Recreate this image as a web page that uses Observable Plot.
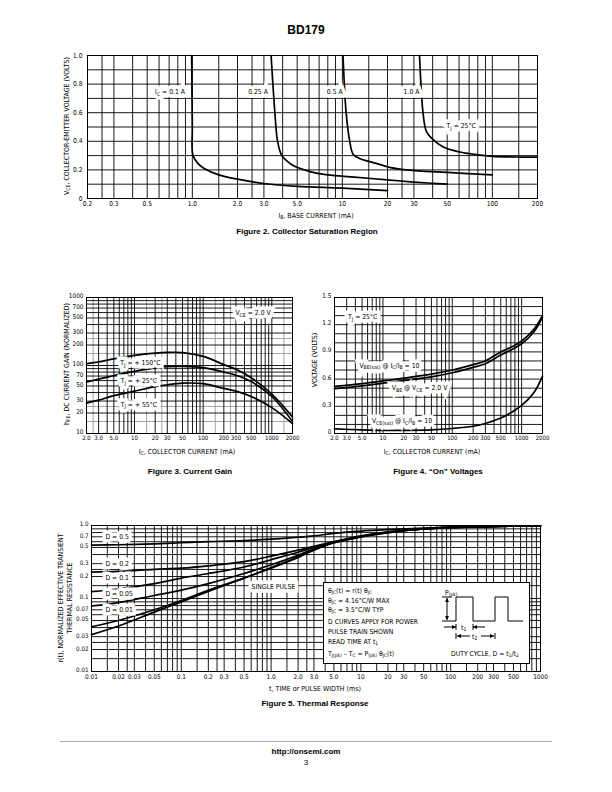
<!DOCTYPE html>
<html><head><meta charset="utf-8">
<script src="https://cdn.jsdelivr.net/npm/d3@7"></script>
<script src="https://cdn.jsdelivr.net/npm/@observablehq/plot@0.6"></script>
<style>
body{margin:0;background:#fff;}
#page{position:relative;width:612px;height:792px;overflow:hidden;background:#fff;color:#000;
 font-family:"Liberation Sans Narrow","Arial Narrow","DejaVu Sans Condensed","Liberation Sans",sans-serif;}
.abs{position:absolute;white-space:nowrap;line-height:1;}
.cap{font-family:"Liberation Sans",Arial,sans-serif;font-weight:bold;font-size:8px;transform:translate(-50%,-50%);}
.xl{font-size:7px;transform:translate(-50%,-50%);}
.yl{font-size:7px;transform:translate(-50%,-50%) rotate(-90deg);}
sub{font-size:0.72em;vertical-align:-0.3em;line-height:0;}
.box{border:1px solid #000;background:#fff;}
.bt{position:absolute;left:4px;font-size:6.8px;white-space:nowrap;line-height:1;transform:translateY(-50%);}
</style></head><body><div id="page"></div>
<script>
// ---------------- DATA ----------------
// Figure 2: Collector Saturation Region (IB mA vs VCE volts)
const fig2Series = ["0.1 A", "0.25 A", "0.5 A", "1.0 A"];
const fig2IB_01  = [0.99, 1.0, 1.01, 1.1, 1.2, 1.5, 2, 3, 5, 10, 20];
const fig2VCE_01 = [1.0, 0.5, 0.3, 0.24, 0.21, 0.165, 0.135, 0.105, 0.085, 0.072, 0.055];
const fig2IB_025  = [3.35, 3.55, 3.7, 3.95, 4.3, 4.7, 6, 8, 12, 20, 30, 50];
const fig2VCE_025 = [1.0, 0.6, 0.4, 0.3, 0.26, 0.23, 0.19, 0.165, 0.15, 0.13, 0.115, 0.1];
const fig2IB_05  = [10.1, 10.6, 11.2, 11.8, 13, 15, 17, 21, 28, 36, 60, 100];
const fig2VCE_05 = [1.0, 0.6, 0.4, 0.31, 0.28, 0.26, 0.244, 0.216, 0.198, 0.19, 0.178, 0.165];
const fig2IB_10  = [32.7, 34.5, 36.3, 39.5, 47, 61, 80, 100, 150, 200];
const fig2VCE_10 = [1.0, 0.6, 0.47, 0.42, 0.36, 0.325, 0.305, 0.295, 0.29, 0.29];
const fig2XTicks = [0.2, 0.3, 0.5, 1, 2, 3, 5, 10, 20, 30, 50, 100, 200];
const fig2XLabels = ["0.2","0.3","0.5","1.0","2.0","3.0","5.0","10","20","30","50","100","200"];
const fig2YTicks = [0, 0.2, 0.4, 0.6, 0.8, 1.0];
const fig2YLabels = ["0","0.2","0.4","0.6","0.8","1.0"];

// Figure 3: Current Gain (IC mA vs hFE)
const fig3Series = ["TJ = +150°C", "TJ = +25°C", "TJ = -55°C"];
const fig3IC = [2, 3, 5, 10, 20, 30, 50, 100, 200, 300, 500, 1000, 2000];
const fig3H150 = [106, 113, 125, 141, 152, 156, 155, 136, 103, 88, 66, 38, 17.5];
const fig3H25  = [57, 63, 71, 82, 92, 96, 97, 93, 80, 72, 58, 35, 15];
const fig3Hm55 = [28, 31, 36, 42, 49, 52, 55, 54, 46, 42, 35, 24, 14];
const fig3XTicks = [2, 3, 5, 10, 20, 30, 50, 100, 200, 300, 500, 1000, 2000];
const fig3XLabels = ["2.0","3.0","5.0","10","20","30","50","100","200","300","500","1000","2000"];
const fig3YTicks = [10, 20, 30, 50, 70, 100, 200, 300, 500, 700, 1000];
const fig3YLabels = ["10","20","30","50","70","100","200","300","500","700","1000"];

// Figure 4: "On" Voltages (IC mA vs volts)
const fig4Series = ["VBE(sat)", "VBE", "VCE(sat)"];
const fig4IC = [2, 5, 10, 20, 50, 100, 200, 300, 500, 700, 1000, 1500, 2000];
const fig4VBEsat = [0.52, 0.55, 0.58, 0.61, 0.655, 0.70, 0.76, 0.80, 0.90, 0.95, 1.02, 1.15, 1.30];
const fig4VBE    = [0.495, 0.525, 0.555, 0.585, 0.625, 0.67, 0.73, 0.77, 0.865, 0.92, 0.99, 1.12, 1.28];
const fig4VCEsat = [0.05, 0.04, 0.035, 0.035, 0.04, 0.055, 0.08, 0.11, 0.17, 0.23, 0.31, 0.45, 0.63];
const fig4YTicks = [0, 0.3, 0.6, 0.9, 1.2, 1.5];
const fig4YLabels = ["0","0.3","0.6","0.9","1.2","1.5"];

// Figure 5: Thermal Response (t ms vs r(t))
const fig5Series = ["D = 0.5", "D = 0.2", "D = 0.1", "D = 0.05", "D = 0.01", "SINGLE PULSE"];
const fig5T = [0.01, 0.02, 0.05, 0.1, 0.2, 0.5, 1, 2, 3, 5, 10, 20, 50, 100, 200, 500, 1000];
const fig5D05  = [0.54, 0.545, 0.56, 0.58, 0.6, 0.62, 0.65, 0.69, 0.72, 0.78, 0.84, 0.88, 0.92, 0.95, 0.96, 0.98, 0.99];
const fig5D02  = [0.23, 0.235, 0.25, 0.26, 0.28, 0.32, 0.38, 0.46, 0.52, 0.6, 0.72, 0.82, 0.9, 0.94, 0.96, 0.98, 0.99];
const fig5D01  = [0.124, 0.135, 0.16, 0.19, 0.22, 0.27, 0.34, 0.43, 0.5, 0.59, 0.71, 0.81, 0.9, 0.94, 0.96, 0.98, 0.99];
const fig5D005 = [0.079, 0.088, 0.11, 0.13, 0.16, 0.22, 0.29, 0.39, 0.48, 0.585, 0.705, 0.805, 0.9, 0.94, 0.96, 0.98, 0.99];
const fig5D001 = [0.041, 0.05, 0.07, 0.094, 0.13, 0.19, 0.265, 0.37, 0.465, 0.58, 0.7, 0.8, 0.9, 0.94, 0.96, 0.98, 0.99];
const fig5SP   = [0.032, 0.042, 0.065, 0.09, 0.125, 0.19, 0.26, 0.365, 0.46, 0.58, 0.7, 0.8, 0.9, 0.94, 0.96, 0.98, 0.99];
const fig5XTicks = [0.01,0.02,0.03,0.05,0.1,0.2,0.3,0.5,1,2,3,5,10,20,30,50,100,200,300,500,1000];
const fig5XLabels = ["0.01","0.02","0.03","0.05","0.1","0.2","0.3","0.5","1.0","2.0","3.0","5.0","10","20","30","50","100","200","300","500","1000"];
const fig5YTicks = [0.01,0.02,0.03,0.05,0.07,0.1,0.2,0.3,0.5,0.7,1.0];
const fig5YLabels = ["0.01","0.02","0.03","0.05","0.07","0.1","0.2","0.3","0.5","0.7","1.0"];

// grid multipliers per decade
const gridMults = [1, 1.5, 2, 2.5, 3, 4, 5, 6, 7, 8, 9];
const gridMultsFine = [1, 2, 3, 4, 5, 6, 7, 8, 9];
const gridMultsGray = [1.5, 2.5];

// ---------------- HELPERS ----------------
const FONT = '"Liberation Sans Narrow","Arial Narrow","DejaVu Sans Condensed","Liberation Sans",sans-serif';
const page = document.getElementById('page');

function decadeGrid(lo, hi, mults) {
  const out = [];
  for (let e = Math.floor(Math.log10(lo)) - 1; e <= Math.ceil(Math.log10(hi)); e++)
    for (const m of mults) {
      const v = +(m * Math.pow(10, e)).toPrecision(6);
      if (v >= lo * 0.999 && v <= hi * 1.001) out.push(v);
    }
  return out;
}
function linGrid(lo, hi, n) { const out = []; for (let i = 0; i <= n; i++) out.push(+(lo + (hi - lo) * i / n).toFixed(6)); return out; }
function rows(names, xs, ys) {
  const out = [];
  names.forEach((n, k) => xs[k].forEach((x, i) => out.push({s: n, x, y: ys[k][i]})));
  return out;
}

const NS = "http://www.w3.org/2000/svg";
function subify(svg) {
  svg.querySelectorAll("text").forEach(t => {
    if (t.children.length) return;
    const s = t.textContent;
    if (!s.includes("_{")) return;
    t.textContent = "";
    const re = /_\{([^}]*)\}/g; let last = 0, m, shifted = false;
    const add = (str, sub) => {
      if (!str) return;
      const ts = document.createElementNS(NS, "tspan");
      ts.textContent = str;
      if (sub) { ts.setAttribute("dy", "1.8"); ts.setAttribute("font-size", "5.2"); shifted = true; }
      else if (shifted) { ts.setAttribute("dy", "-1.8"); shifted = false; }
      t.appendChild(ts);
    };
    while ((m = re.exec(s))) { add(s.slice(last, m.index), false); add(m[1], true); last = re.lastIndex; }
    add(s.slice(last), false);
  });
}

function chart({fx0, fy0, fx1, fy1, ml = 30, mr = 14, mt = 8, mb = 14, x, y, marks}) {
  const svg = Plot.plot({
    width: fx1 - fx0 + ml + mr, height: fy1 - fy0 + mt + mb,
    marginLeft: ml, marginRight: mr, marginTop: mt, marginBottom: mb,
    x: {...x, axis: null}, y: {...y, axis: null},
    style: {fontFamily: FONT, fontSize: "7px", color: "#000", background: "transparent", overflow: "visible"},
    marks
  });
  svg.style.position = "absolute";
  svg.style.left = (fx0 - ml) + "px";
  svg.style.top = (fy0 - mt) + "px";
  subify(svg);
  page.appendChild(svg);
}
function html(cls, x, y, inner, extra = "") {
  const d = document.createElement("div");
  d.className = "abs " + cls;
  d.style.left = x + "px"; d.style.top = y + "px";
  if (extra) d.style.cssText += extra;
  d.innerHTML = inner;
  page.appendChild(d);
  return d;
}
// tick labels drawn as text marks positioned by the scales
function xTickLabels(ticks, labels, dy = 2, fontSize = 6.6) {
  return Plot.text(ticks, {x: d => d, text: (d, i) => labels[i], frameAnchor: "bottom", lineAnchor: "top", dy, fontSize, fill: "#000"});
}
function yTickLabels(ticks, labels, dx = -4, dy = 0, fontSize = 6.6) {
  return Plot.text(ticks, {y: d => d, text: (d, i) => labels[i], frameAnchor: "left", textAnchor: "end", dx, dy, fontSize, fill: "#000"});
}
// labels with a white halo drawn underneath
function haloText(data, extra = {}) {
  return [
    Plot.text(data, {x: "x", y: "y", text: "t", fill: "#fff", stroke: "#fff", strokeWidth: 7, strokeLinejoin: "miter", fontSize: 6.8, ...extra}),
    Plot.text(data, {x: "x", y: "y", text: "t", fill: "#000", fontSize: 6.8, ...extra})
  ];
}
const LINE = {stroke: "#000", strokeWidth: 1.7, curve: "catmull-rom"};
const GRID = {stroke: "#000", strokeWidth: 0.9};

// ---------------- PAGE TITLE ----------------
html("cap", 306, 30, "BD179", "font-size:12px;");

// ---------------- FIGURE 2 ----------------
{
  const data = rows(fig2Series, [fig2IB_01, fig2IB_025, fig2IB_05, fig2IB_10], [fig2VCE_01, fig2VCE_025, fig2VCE_05, fig2VCE_10]);
  const labels = [
    {x: 0.71, y: 0.745, t: "I_{C} = 0.1 A"},
    {x: 2.74, y: 0.745, t: "0.25 A"},
    {x: 8.9, y: 0.745, t: "0.5 A"},
    {x: 28.9, y: 0.745, t: "1.0 A"},
    {x: 62, y: 0.51, t: "T_{J} = 25°C"}
  ];
  chart({
    fx0: 87, fy0: 55, fx1: 537, fy1: 198, ml: 30, mr: 14, mt: 6, mb: 14,
    x: {type: "log", domain: [0.2, 200]},
    y: {domain: [0, 1]},
    marks: [
      Plot.ruleX(decadeGrid(0.2, 200, gridMults), GRID),
      Plot.ruleY(linGrid(0, 1, 10), GRID),
      Plot.frame({stroke: "#000", strokeWidth: 1}),
      Plot.line(data, {x: "x", y: "y", z: "s", ...LINE}),
      ...haloText(labels),
      xTickLabels(fig2XTicks, fig2XLabels, 3),
      yTickLabels(fig2YTicks, fig2YLabels, -5)
    ]
  });
  html("yl", 67, 126, "V<sub>CE</sub>, COLLECTOR-EMITTER VOLTAGE (VOLTS)");
  html("xl", 316, 216, "I<sub>B</sub>, BASE CURRENT (mA)");
  html("cap", 307, 232, "Figure 2. Collector Saturation Region");
}

// ---------------- FIGURE 3 ----------------
{
  const data = rows(fig3Series, [fig3IC, fig3IC, fig3IC], [fig3H150, fig3H25, fig3Hm55]);
  const labels = [
    {x: 532, y: 600, t: "V_{CE} = 2.0 V"},
    {x: 12.2, y: 110, t: "T_{J} = + 150°C"},
    {x: 11.6, y: 60, t: "T_{J} = + 25°C"},
    {x: 11.6, y: 26.7, t: "T_{J} = + 55°C"}
  ];
  chart({
    fx0: 86, fy0: 297, fx1: 292, fy1: 433, ml: 26, mr: 12, mt: 6, mb: 14,
    x: {type: "log", domain: [2, 2000]},
    y: {type: "log", domain: [10, 1000]},
    marks: [
      Plot.ruleX(decadeGrid(2, 2000, gridMultsGray), {stroke: "#999", strokeWidth: 0.9}),
      Plot.ruleY(decadeGrid(10, 1000, gridMultsGray), {stroke: "#999", strokeWidth: 0.9}),
      Plot.ruleX(decadeGrid(2, 2000, gridMultsFine), GRID),
      Plot.ruleY(decadeGrid(10, 1000, gridMultsFine), GRID),
      Plot.frame({stroke: "#000", strokeWidth: 1}),
      Plot.line(data, {x: "x", y: "y", z: "s", ...LINE}),
      ...haloText(labels),
      xTickLabels(fig3XTicks, fig3XLabels, 2.5, 6),
      yTickLabels(fig3YTicks, fig3YLabels, -3, -1.5, 6.4)
    ]
  });
  html("yl", 67, 364, "h<sub>FE</sub>, DC CURRENT GAIN (NORMALIZED)");
  html("xl", 187, 452, "I<sub>C</sub>, COLLECTOR CURRENT (mA)");
  html("cap", 190, 472, "Figure 3. Current Gain");
}

// ---------------- FIGURE 4 ----------------
{
  const data = rows(fig4Series, [fig4IC, fig4IC, fig4IC], [fig4VBEsat, fig4VBE, fig4VCEsat]);
  const labels = [
    {x: 5.1, y: 1.29, t: "T_{J} = 25°C"},
    {x: 12.4, y: 0.75, t: "V_{BE(sat)} @ I_{C}/I_{B} = 10"},
    {x: 33.7, y: 0.507, t: "V_{BE} @ V_{CE} = 2.0 V"},
    {x: 18.8, y: 0.143, t: "V_{CE(sat)} @ I_{C}/I_{B} = 10"}
  ];
  chart({
    fx0: 334, fy0: 297, fx1: 542, fy1: 433, ml: 22, mr: 14, mt: 6, mb: 14,
    x: {type: "log", domain: [2, 2000]},
    y: {domain: [0, 1.5]},
    marks: [
      Plot.ruleX(decadeGrid(2, 2000, gridMultsFine), GRID),
      Plot.ruleY(linGrid(0, 1.5, 15), GRID),
      Plot.frame({stroke: "#000", strokeWidth: 1}),
      Plot.line(data, {x: "x", y: "y", z: "s", ...LINE}),
      ...haloText(labels),
      xTickLabels(fig3XTicks, fig3XLabels, 2.5, 6),
      yTickLabels(fig4YTicks, fig4YLabels, -3, -1.5, 6.4)
    ]
  });
  html("yl", 315, 360, "VOLTAGE (VOLTS)");
  html("xl", 432, 452, "I<sub>C</sub>, COLLECTOR CURRENT (mA)");
  html("cap", 438, 472, "Figure 4. “On” Voltages");
}

// ---------------- FIGURE 5 ----------------
{
  const data = rows(fig5Series, [fig5T, fig5T, fig5T, fig5T, fig5T, fig5T], [fig5D05, fig5D02, fig5D01, fig5D005, fig5D001, fig5SP]);
  const labels = [
    {x: 0.0143, y: 0.71, t: "D = 0.5"},
    {x: 0.0143, y: 0.30, t: "D = 0.2"},
    {x: 0.0143, y: 0.19, t: "D = 0.1"},
    {x: 0.0143, y: 0.116, t: "D = 0.05"},
    {x: 0.0143, y: 0.07, t: "D = 0.01"}
  ];
  const spLabel = [{x: 1.06, y: 0.146, t: "SINGLE PULSE"}];
  chart({
    fx0: 91, fy0: 525, fx1: 540, fy1: 671, ml: 26, mr: 14, mt: 6, mb: 14,
    x: {type: "log", domain: [0.01, 1000]},
    y: {type: "log", domain: [0.01, 1]},
    marks: [
      Plot.ruleX(decadeGrid(0.01, 1000, gridMults), GRID),
      Plot.ruleY(decadeGrid(0.01, 1, gridMults), GRID),
      Plot.frame({stroke: "#000", strokeWidth: 1}),
      Plot.line(data, {x: "x", y: "y", z: "s", ...LINE}),
      ...haloText(labels, {textAnchor: "start"}),
      ...haloText(spLabel),
      xTickLabels(fig5XTicks, fig5XLabels, 3, 6.4),
      yTickLabels(fig5YTicks, fig5YLabels, -3, -1, 6.2)
    ]
  });
  html("yl", 61, 598, "r(t), NORMALIZED EFFECTIVE TRANSIENT");
  html("yl", 70, 598, "THERMAL RESISTANCE");
  html("xl", 315, 689, "t, TIME or PULSE WIDTH (ms)");
  html("cap", 315, 704, "Figure 5. Thermal Response");

  // info box
  const box = html("box", 323, 582, "", "width:205px;height:80px;");
  const lines = [
    [8, "θ<sub>JC</sub>(t) = r(t) θ<sub>JC</sub>"],
    [18, "θ<sub>JC</sub> = 4.16°C/W MAX"],
    [27, "θ<sub>JC</sub> = 3.5°C/W TYP"],
    [39, "D CURVES APPLY FOR POWER"],
    [49, "PULSE TRAIN SHOWN"],
    [59, "READ TIME AT t<sub>1</sub>"],
    [71, "T<sub>J(pk)</sub> – T<sub>C</sub> = P<sub>(pk)</sub> θ<sub>JC</sub>(t)"]
  ];
  for (const [yy, s] of lines) {
    const d = document.createElement("div"); d.className = "bt"; d.style.top = yy + "px"; d.innerHTML = s; box.appendChild(d);
  }
  const dc = document.createElement("div"); dc.className = "bt"; dc.style.top = "71px"; dc.style.left = "127px";
  dc.innerHTML = "DUTY CYCLE, D = t<sub>1</sub>/t<sub>2</sub>"; box.appendChild(dc);
  const pk = document.createElement("div"); pk.className = "bt"; pk.style.top = "10px"; pk.style.left = "121px";
  pk.innerHTML = "P<sub>(pk)</sub>"; box.appendChild(pk);

  // pulse train sketch (decoration)
  const svg = d3.create("svg").attr("width", 90).attr("height", 60)
    .style("position", "absolute").style("left", "440px").style("top", "590px");
  const defs = svg.append("defs");
  defs.append("marker").attr("id", "ah").attr("viewBox", "0 0 6 6").attr("refX", 6).attr("refY", 3)
    .attr("markerWidth", 4).attr("markerHeight", 4).attr("orient", "auto-start-reverse")
    .append("path").attr("d", "M0,0L6,3L0,6Z").attr("fill", "#000");
  const g = svg.append("g").attr("stroke", "#000").attr("fill", "none").attr("stroke-width", 1);
  g.append("path").attr("d", "M2,31H16V7H33V31H55V7H68V31H83");
  g.append("path").attr("d", "M2,7H12");
  g.append("path").attr("d", "M7,8V30").attr("marker-start", "url(#ah)").attr("marker-end", "url(#ah)");
  g.append("path").attr("d", "M4,37H16").attr("marker-end", "url(#ah)");
  g.append("path").attr("d", "M45,37H33").attr("marker-end", "url(#ah)");
  g.append("path").attr("d", "M16,34V40M33,34V40");
  g.append("path").attr("d", "M30,46H17").attr("marker-end", "url(#ah)");
  g.append("path").attr("d", "M41,46H54").attr("marker-end", "url(#ah)");
  g.append("path").attr("d", "M16,43V49M55,43V49");
  svg.append("text").attr("x", 21).attr("y", 39.5).attr("font-size", 6.8).attr("font-family", FONT).text("t")
    .append("tspan").attr("dy", 1.8).attr("font-size", 5).text("1");
  svg.append("text").attr("x", 32).attr("y", 48.5).attr("font-size", 6.8).attr("font-family", FONT).text("t")
    .append("tspan").attr("dy", 1.8).attr("font-size", 5).text("2");
  page.appendChild(svg.node());
}

// ---------------- FOOTER ----------------
html("", 60, 741, "", "width:492px;height:0;border-top:1px solid #aaa;");
html("cap", 306, 752, "http://onsemi.com", "font-size:8px;");
html("cap", 306, 763, "3", "font-size:8px;font-weight:normal;");
</script></body></html>
